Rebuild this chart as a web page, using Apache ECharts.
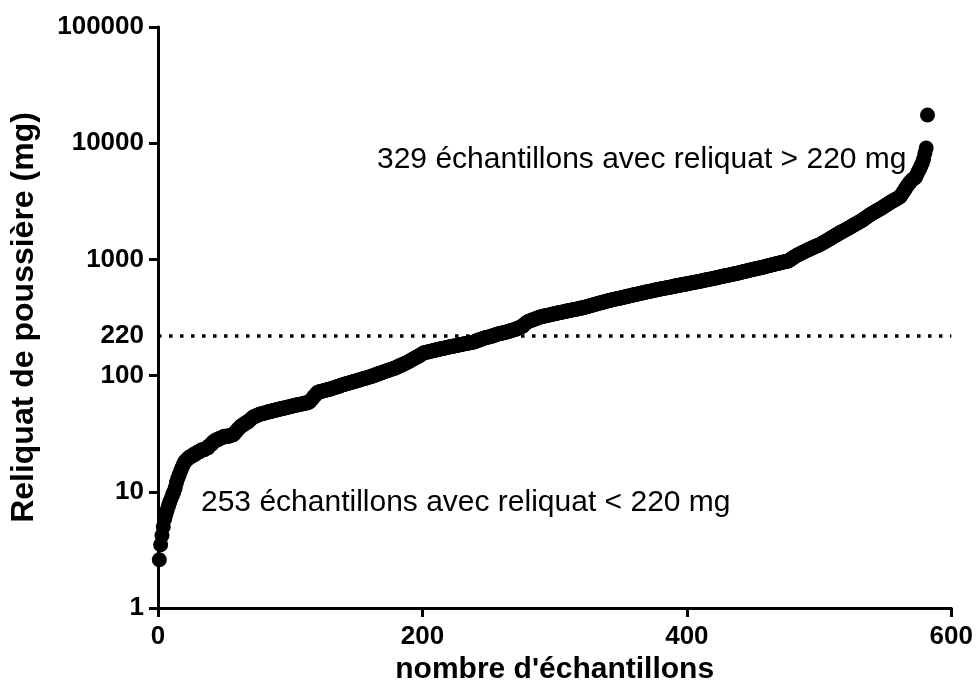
<!DOCTYPE html>
<html>
<head>
<meta charset="utf-8">
<script src="https://cdn.jsdelivr.net/npm/echarts@6/dist/echarts.min.js"></script>
<style>html,body{margin:0;padding:0;background:#fff}#c{width:976px;height:692px}</style>
</head>
<body>
<div id="c"></div>
<script>
// Sorted dust residue per sample (mg), sample rank 1..582
const residue = [
2.6,3.5,4.2,5.0,5.8,6.4,7.0,7.6,8.2,8.8,9.4,10,10.8,12,13,14,15,16,17,18,18.5,19,19.5,
20,20,20.5,21,21,21.5,22,22,22.5,23,23,23,23.5,24,24,25,25.5,26,27,27.5,28,28,28.5,29,29,
29.5,30,30,30,30,30.5,30.5,31,31,32,33,34,
35,36,37,37.5,38,39,39.5,40,41,
42,43,44,44.5,45,45.5,46,46.5,47,47,47.5,48,48,48.5,49,49,49.5,50,50,
50.5,51,51,51.5,52,52,52.5,53,53,53.5,54,54,54.5,55,55,55.5,56,56,56.5,57,57,57.5,58,58,58.5,59,
60,62,64,66,68,70,72,
72.5,73,73.5,74,74.5,75,75.5,76,76.5,77,78,78.5,79,80,80.5,81,82,83,
83.5,84,85,85.5,86,87,87.5,88,89,89.5,90,91,91.5,92,93,94,94.5,95,96,97,97.5,98,99,100,101,
102,103,104,105,106,107,108,109,110,111,112,113,114,115,116,117,119,120,122,123,125,126,128,129,131,
133,135,137,139,141,143,145,147,149,152,154,157,
158,159,160,161,162,163,164,165,166,167,168,169,170,171,172,173,174,175,176,177,178,179,180,181,182,183,184,185,186,187,188,189,190,191,192,193,194,195,
197,199,201,203,205,207,209,211,213,214,215,216,218,219,
222,224,226,228,229,231,232,234,235,236,238,240,242,244,246,248,250,252,255,258,261,264,268,
275,282,288,292,295,298,301,304,307,310,313,316,319,
321,323,325,327,329,331,333,335,337,339,341,343,345,347,349,351,353,355,357,359,361,363,365,367,369,371,373,375,377,379,381,383,385,388,391,394,397,400,403,406,409,412,415,418,421,424,427,430,433,436,439,442,445,448,451,454,457,459,461,463,466,
469,472,475,478,481,484,487,490,493,496,499,502,505,508,511,514,517,520,523,526,529,532,535,538,541,544,547,550,553,556,559,562,565,568,571,574,577,580,583,586,589,592,595,598,601,604,607,610,613,616,620,623,626,630,633,636,640,643,646,650,653,657,660,664,667,671,674,678,682,686,690,694,698,702,707,
711,715,719,723,727,731,735,739,743,747,751,755,760,765,770,775,780,785,790,795,800,805,810,815,820,825,830,835,840,845,850,855,860,866,872,878,884,890,896,902,908,914,920,926,932,938,944,950,955,960,
966,975,990,1010,1030,1050,1065,1080,1095,1110,1125,1140,1155,1170,1185,1200,1215,1230,1245,1260,1275,1290,1305,1318,1330,
1350,1371,1392,1413,1434,1456,1478,1500,1525,1550,1575,1600,1625,1650,1675,1700,1725,1750,1775,1800,1825,1850,1880,1910,1940,1970,2000,2030,2060,2090,2120,2150,2190,2230,2270,2320,
2360,2400,2440,2480,2520,2560,2600,2640,2680,2720,2760,2800,2850,2900,2950,3000,3050,3100,3150,3200,3250,3300,3340,3390,3440,
3550,3700,3850,4000,4200,4350,4500,4650,4800,4900,5000,5100,5400,5700,6000,6350,6750,7300,8200,9100,17500
];
const threshold = 220;
const xTicks = [0, 200, 400, 600];
const yTicks = [1, 10, 100, 1000, 10000, 100000];
const xTitle = "nombre d'échantillons";
const yTitle = "Reliquat de poussière (mg)";
const noteLow = "253 échantillons avec reliquat < 220 mg";
const noteHigh = "329 échantillons avec reliquat > 220 mg";

const points = residue.map((v, i) => [i + 1, v]);
const FONT = 'Liberation Sans';

const chart = echarts.init(document.getElementById('c'), null, {renderer: 'canvas'});
chart.setOption({
  animation: false,
  backgroundColor: '#fff',
  grid: {left: 156, right: 24, top: 27, bottom: 84, containLabel: false},
  xAxis: {
    type: 'value', min: xTicks[0], max: xTicks[xTicks.length - 1], interval: 200,
    name: xTitle, nameLocation: 'middle', nameGap: 47,
    nameTextStyle: {fontFamily: FONT, fontWeight: 'bold', fontSize: 30, color: '#000'},
    axisLine: {onZero: false, lineStyle: {color: '#000', width: 3}},
    axisTick: {show: true, length: 9, lineStyle: {color: '#000', width: 3}},
    axisLabel: {fontFamily: FONT, fontWeight: 'bold', fontSize: 26, color: '#000', margin: 16},
    splitLine: {show: false}
  },
  yAxis: {
    type: 'log', logBase: 10, min: yTicks[0], max: yTicks[yTicks.length - 1],
    name: yTitle, nameLocation: 'middle', nameGap: 118, nameRotate: 90,
    nameTextStyle: {fontFamily: FONT, fontWeight: 'bold', fontSize: 32, color: '#000'},
    axisLine: {show: true, onZero: false, lineStyle: {color: '#000', width: 3}},
    axisTick: {show: true, length: 9, lineStyle: {color: '#000', width: 3}},
    axisLabel: {fontFamily: FONT, fontWeight: 'bold', fontSize: 26, color: '#000', margin: 14,
      formatter: v => String(Math.round(v))},
    splitLine: {show: false},
    minorTick: {show: false}
  },
  series: [{
    type: 'scatter',
    data: points,
    symbol: 'circle',
    symbolSize: 15,
    itemStyle: {color: '#000', opacity: 1},
    silent: true,
    markLine: {
      silent: true,
      symbol: ['none', 'none'],
      lineStyle: {color: '#000', width: 3.5, type: [3.5, 7.5]},
      label: {show: true, position: 'start', formatter: String(threshold), distance: 14,
        fontFamily: FONT, fontWeight: 'bold', fontSize: 26, color: '#000'},
      data: [{yAxis: threshold}]
    }
  }],
  graphic: [
    {type: 'text', left: 201, top: 488, style: {text: noteLow, fontFamily: FONT, fontSize: 30, fill: '#000'}},
    {type: 'text', left: 377, top: 145, style: {text: noteHigh, fontFamily: FONT, fontSize: 30, fill: '#000'}}
  ]
});
</script>
</body>
</html>
